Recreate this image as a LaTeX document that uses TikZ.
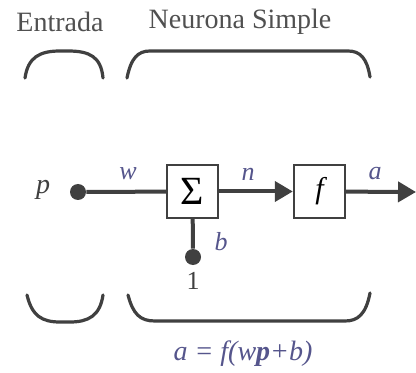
\documentclass[tikz,border=0pt]{standalone}
\usepackage{fontspec}
\setmainfont{Liberation Serif}
\usetikzlibrary{arrows.meta, positioning}

\definecolor{linegray}{HTML}{404040}
\definecolor{labelblue}{HTML}{55558C}
\definecolor{textgray}{HTML}{505050}

\begin{document}
\begin{tikzpicture}[x=0.5pt, y=-0.5pt,
    wire/.style={draw=linegray, line width=2pt},
    brace/.style={draw=linegray, line width=1.6pt, line cap=round},
    block/.style={rectangle, draw=linegray, line width=1.2pt, minimum width=25.5pt, minimum height=26.5pt, inner sep=0pt},
    dot/.style={circle, fill=linegray, inner sep=0pt, minimum size=8pt},
    lbl/.style={text=labelblue, font=\fontsize{13}{15}\selectfont\itshape},
    title/.style={text=textgray, font=\fontsize{14}{16}\selectfont},
    head/.style={-{Triangle[length=9pt, width=10pt]}}
]
    \useasboundingbox[fill=white] (0,0) rectangle (416,373);

    % Titles and braces
    \node[title] (entrada) at (60,22) {Entrada};
    \node[title] (neurona) at (240,22) {Neurona Simple};
    \draw[brace] (25,78) .. controls (28,57) and (40,51) .. (60,51) -- (68,51) .. controls (90,51) and (101,57) .. (103,78);
    \draw[brace] (127,78) .. controls (131,58) and (138,51) .. (150,51) -- (348,51) .. controls (360,51) and (367,58) .. (370,77);
    \draw[brace] (27,295) .. controls (32,316) and (42,322) .. (60,322) -- (70,322) .. controls (88,322) and (100,316) .. (103,295);
    \draw[brace] (128,295) .. controls (133,314) and (140,321) .. (155,321) -- (345,321) .. controls (358,321) and (366,314) .. (370,293);

    % Neuron
    \node[block] (sum) at (192.5,191.5) {\fontsize{20}{22}\selectfont Σ};
    \node[block] (act) at (319.5,191.5) {\fontsize{15}{17}\selectfont\itshape f};
    \node[dot] (pdot) at (78,192) {};
    \node[dot] (bdot) at (193,257) {};
    \coordinate (out) at (416,192);

    \node[lbl, text=linegray, font=\fontsize{14}{16}\selectfont\itshape] (p) at (43,190) {p};
    \node[lbl] (w) at (128,174) {w};
    \node[lbl] (n) at (248,174) {n};
    \node[lbl] (a) at (375,174) {a};
    \node[lbl] (b) at (221,242) {b};
    \node[text=linegray, font=\fontsize{13}{15}\selectfont] (one) at (193,281) {1};

    % Connections
    \draw[wire] (pdot) -- (sum);
    \draw[wire, head] (sum) -- (act);
    \draw[wire, head] (act) -- (out);
    \draw[wire] (sum) -- (bdot);

    % Formula
    \node[lbl, font=\fontsize{14}{16}\selectfont\itshape] (formula) at (243,354) {a = f(w\textbf{p}+b)};
\end{tikzpicture}
\end{document}
